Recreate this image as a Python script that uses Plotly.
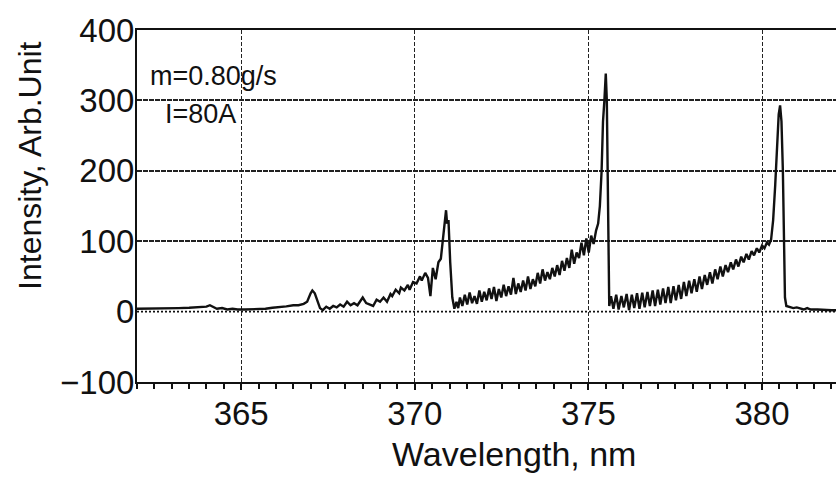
import plotly.graph_objects as go

# ---- data ----
wavelength = [
    362.0, 362.3, 362.6, 362.9, 363.2, 363.5, 363.8, 364.0, 364.1, 364.2,
    364.3, 364.45, 364.6, 364.75, 364.9, 365.1, 365.4, 365.7, 365.9, 366.1,
    366.3, 366.5, 366.65, 366.8, 366.9,
    367.0, 367.05, 367.12, 367.2, 367.27, 367.35, 367.45, 367.55, 367.65, 367.75,
    367.85, 367.95, 368.05, 368.15, 368.25, 368.35, 368.5, 368.6, 368.7, 368.8,
    368.9, 369.0, 369.1, 369.2, 369.3, 369.35, 369.45, 369.55, 369.6, 369.7,
    369.8, 369.85, 369.95, 370.05, 370.15, 370.2, 370.3, 370.38, 370.45, 370.52,
    370.6, 370.68, 370.75, 370.82, 370.87, 370.9, 370.93, 370.97, 371.02, 371.08,
    371.14, 371.2, 371.25,
    371.3, 371.37, 371.44, 371.51, 371.58, 371.65, 371.72, 371.79, 371.86, 371.93,
    372.0, 372.07, 372.14, 372.21, 372.28, 372.35, 372.42, 372.49, 372.56, 372.63,
    372.7, 372.77, 372.84, 372.91, 372.98, 373.05, 373.12, 373.19, 373.26, 373.33,
    373.4, 373.47, 373.54, 373.61, 373.68, 373.75, 373.82, 373.89, 373.96, 374.03,
    374.1, 374.17, 374.24, 374.31, 374.38, 374.45, 374.52, 374.59, 374.66, 374.73,
    374.8, 374.87, 374.94, 375.01, 375.08, 375.15, 375.22, 375.28, 375.33, 375.38,
    375.42, 375.46, 375.5, 375.53, 375.56, 375.58, 375.6,
    375.65, 375.72, 375.8, 375.87, 375.95, 376.02, 376.1, 376.17, 376.25, 376.32,
    376.4, 376.47, 376.55, 376.62, 376.7, 376.77, 376.85, 376.92, 377.0, 377.07,
    377.15, 377.22, 377.3, 377.37, 377.45, 377.52, 377.6, 377.67, 377.75, 377.82,
    377.9, 377.97, 378.05, 378.12, 378.2, 378.27, 378.35, 378.42, 378.5, 378.57,
    378.65, 378.72, 378.8, 378.87, 378.95, 379.02, 379.1, 379.17, 379.25, 379.32,
    379.4, 379.47, 379.55, 379.62, 379.7, 379.77, 379.85, 379.92, 380.0, 380.07,
    380.14, 380.2, 380.26, 380.32, 380.38, 380.43, 380.48, 380.52, 380.56, 380.6,
    380.63, 380.66, 380.7, 380.8, 380.9, 381.0, 381.1, 381.2, 381.3, 381.4,
    381.6, 381.8, 382.0, 382.2,
]
intensity = [
    4, 4, 4.5, 5, 5, 5.5, 6, 7, 9, 7,
    4, 5, 3, 4, 3, 3, 3.5, 4, 5.5, 6,
    7.5, 9, 9, 11, 14,
    26, 30, 26, 14, 5, 2, 7, 4, 8, 6,
    10, 7, 14, 9, 12, 9, 20, 12, 10, 8,
    17, 14, 20, 14, 25, 22, 31, 26, 34, 30,
    38, 31, 42, 40, 50, 44, 55, 48, 22, 62,
    46, 70, 75, 110, 135, 144, 125, 130, 70, 20,
    4, 14, 5,
    20, 8, 24, 10, 27, 12, 22, 11, 30, 14,
    28, 16, 33, 18, 35, 15, 32, 20, 38, 22,
    36, 24, 48, 25, 40, 28, 44, 30, 50, 32,
    46, 36, 55, 40, 60, 44, 56, 46, 62, 50,
    66, 52, 72, 58, 76, 62, 88, 68, 84, 76,
    98, 80, 104, 84, 108, 96, 115, 125, 150, 200,
    270, 300, 338, 300, 150, 40, 8,
    22, 4, 24, 3, 22, 6, 25, 2, 24, 5,
    26, 4, 27, 6, 28, 8, 30, 8, 31, 10,
    33, 12, 35, 12, 36, 16, 38, 18, 42, 22,
    44, 26, 46, 28, 50, 32, 52, 38, 56, 40,
    60, 46, 64, 50, 66, 56, 70, 60, 74, 64,
    78, 70, 82, 74, 86, 80, 90, 84, 94, 90,
    98, 95, 102, 130, 180, 240, 280, 293, 270, 200,
    100, 20, 8, 7, 5, 6, 4, 3, 5, 3,
    3, 2, 2, 2,
]

x_ticks = [365, 370, 375, 380]
y_ticks = [-100, 0, 100, 200, 300, 400]
y_grid = [100, 200, 300]
zero_level = 0
x_range = [362.0, 382.13]
y_range = [-100, 400]

FONT = "Liberation Sans, Arial, Helvetica, sans-serif"
INK = "#111111"

fig = go.Figure()
fig.add_trace(go.Scatter(
    x=wavelength, y=intensity, mode="lines",
    line=dict(color=INK, width=2.4), showlegend=False, hoverinfo="skip",
))

fig.update_layout(
    width=836, height=477,
    margin=dict(l=137, r=0, t=30, b=95),
    paper_bgcolor="white", plot_bgcolor="white",
    font=dict(family=FONT, color=INK),
    showlegend=False,
)

fig.update_xaxes(
    range=x_range, tickmode="array", tickvals=x_ticks,
    ticks="outside", ticklen=6, tickwidth=1.5, tickcolor=INK,
    tickfont=dict(size=33, family=FONT, color=INK),
    ticklabelstandoff=-5,
    showline=True, linecolor=INK, linewidth=2, mirror=True,
    showgrid=True, gridcolor="#222222", gridwidth=1.4, griddash="4px,2px",
    zeroline=False,
    minor=dict(dtick=0.5, tick0=362, ticks="outside", ticklen=5,
               tickwidth=1.5, tickcolor=INK, showgrid=False),
)
fig.update_yaxes(
    range=y_range, tickmode="array", tickvals=y_ticks,
    ticks="", tickfont=dict(size=33, family=FONT, color=INK),
    ticklabelstandoff=-6,
    showline=True, linecolor=INK, linewidth=2, mirror=False,
    showgrid=False, zeroline=False,
    minor=dict(tickmode="array", tickvals=y_grid, ticks="", showgrid=True,
               gridcolor="#222222", gridwidth=1.6, griddash="5px,1px"),
)

# dotted zero reference line
fig.add_shape(type="line", xref="paper", x0=0, x1=1, yref="y",
              y0=zero_level, y1=zero_level,
              line=dict(color=INK, width=1.6, dash="2px,2px"))

# axis titles as annotations (placed like the reference)
fig.add_annotation(text="Wavelength, nm", xref="paper", yref="paper",
                   x=0.539, y=-0.205, xanchor="center", yanchor="middle",
                   showarrow=False, font=dict(size=34, family=FONT, color=INK))
fig.add_annotation(text="Intensity, Arb.Unit", xref="paper", yref="paper",
                   x=-0.153, y=0.614, xanchor="center", yanchor="middle",
                   textangle=-90, showarrow=False,
                   font=dict(size=32, family=FONT, color=INK))

# condition labels
fig.add_annotation(text="m=0.80g/s", xref="paper", yref="paper",
                   x=0.0157, y=0.869, xanchor="left", yanchor="middle",
                   showarrow=False, font=dict(size=27, family=FONT, color=INK))
fig.add_annotation(text="I=80A", xref="paper", yref="paper",
                   x=0.0372, y=0.761, xanchor="left", yanchor="middle",
                   showarrow=False, font=dict(size=27, family=FONT, color=INK))

fig.write_html("out.html")
